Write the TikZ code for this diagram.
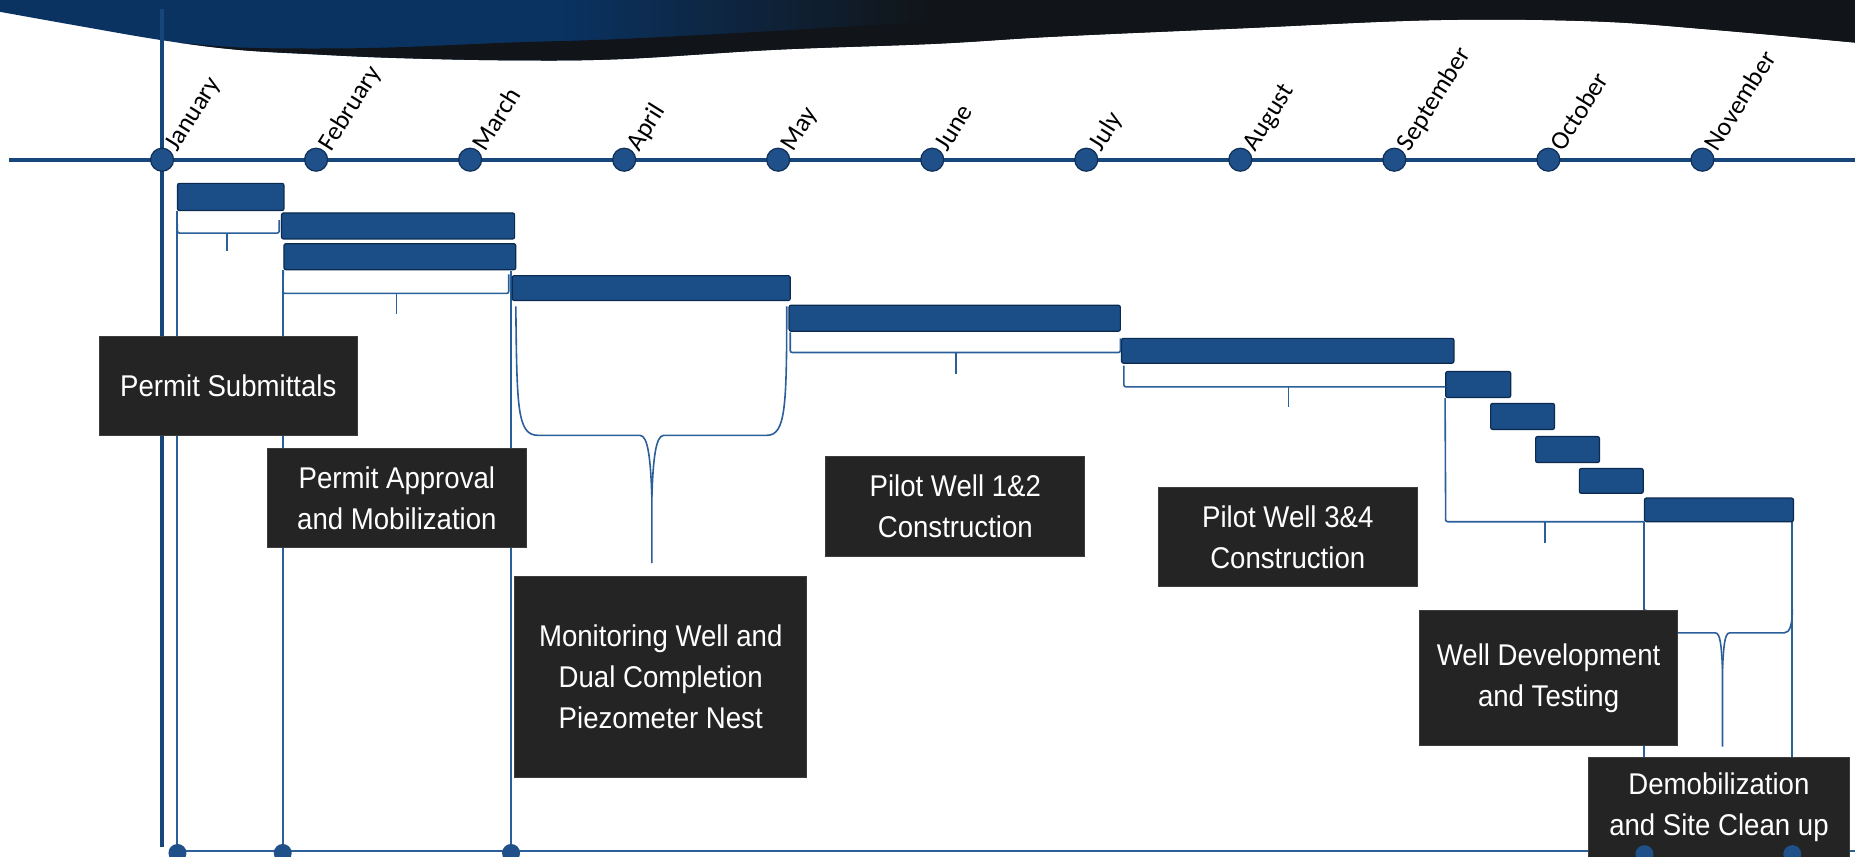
\documentclass[tikz,border=0pt]{standalone}
\usepackage{fontspec}
\usetikzlibrary{fit}
\newfontfamily\monthfam{Carlito}
\newfontfamily\boxfam[FakeStretch=0.92]{Liberation Sans}
\definecolor{navy}{HTML}{0A3362}
\definecolor{bandblack}{HTML}{111519}
\definecolor{barFill}{HTML}{1B4D86}
\definecolor{barEdge}{HTML}{0B2A50}
\definecolor{axisBlue}{HTML}{17467B}
\definecolor{connBlue}{HTML}{2B5F9A}
\definecolor{dotFill}{HTML}{1F5089}
\definecolor{dotEdge}{HTML}{0E2F58}
\definecolor{boxFill}{HTML}{242424}
\definecolor{boxEdge}{HTML}{3C3C3C}
\pgfdeclarehorizontalshading{bandshade}{100bp}{color(0bp)=(navy); color(25bp)=(navy); color(40bp)=(navy); color(50bp)=(bandblack); color(100bp)=(bandblack)}
\tikzset{
  bar/.style={draw=barEdge, fill=barFill, line width=1.2pt, rounded corners=2pt, inner sep=0pt},
  tbox/.style={fill=boxFill, draw=boxEdge, line width=0.8pt, inner sep=0pt},
  ttext/.style={text=white, font=\boxfam\fontsize{30}{41}\selectfont, align=center, inner sep=0pt},
  conn/.style={draw=connBlue, line width=1.6pt, rounded corners=2pt},
  vline/.style={draw=connBlue, line width=2pt},
  axisline/.style={draw=axisBlue, line width=4pt},
  mdot/.style={circle, fill=dotFill, draw=dotEdge, line width=1.2pt, minimum size=23pt, inner sep=0pt},
  bdot/.style={circle, fill=dotFill, minimum size=18pt, inner sep=0pt},
  mlabel/.style={font=\monthfam\fontsize{26}{30}\selectfont, rotate=58, anchor=base west, inner sep=0pt},
}
\begin{document}
\begin{tikzpicture}[x=1.18304pt, y=-1.18304pt]
\useasboundingbox (0,0) rectangle (1568,723.6);
% top band
\path[shading=bandshade] (0,0) -- plot[smooth, tension=0.6] coordinates {(0,10) (67,22) (137,34) (200,42) (267,46) (334,49) (430,51) (524,50) (657,42) (791,37) (891,31) (1048,24) (1213,17) (1346,18) (1446,25) (1568,36)} -- (1568,0) -- cycle;
\begin{scope}
\clip (0,0) -- plot[smooth, tension=0.6] coordinates {(0,10) (67,22) (137,34) (200,42) (267,46) (334,49) (430,51) (524,50) (657,42) (791,37) (891,31) (1048,24) (1213,17) (1346,18) (1446,25) (1568,36)} -- (1568,0) -- cycle;
\fill[bandblack] plot[smooth, tension=0.6] coordinates {(140,35) (200,40) (267,41) (334,40) (430,36) (524,33) (657,26) (791,18) (891,12) (1000,5) (1100,0)} -- (1568,0) -- (1568,60) -- (140,60) -- cycle;
\end{scope}
% axes
\draw[axisline] (8,135) -- (1568,135);
\draw[axisline] (137,8) -- (137,716);
% long verticals and bottom line
\draw[vline] (150,178) -- (150,720);
\draw[vline] (239,228) -- (239,720);
\draw[vline] (432,229) -- (432,720);
\draw[vline] (1390,441) -- (1390,720);
\draw[vline] (1515,441) -- (1515,720);
\draw[vline] (150,719) -- (1568,719);
% bars
\node[bar, fit={(150,155) (240,178)}] (b1) {};
\node[bar, fit={(238,180) (435,202)}] (b2) {};
\node[bar, fit={(240,206) (436,228)}] (b3) {};
\node[bar, fit={(433,233) (668,254)}] (b4) {};
\node[bar, fit={(667,258) (947,280)}] (b5) {};
\node[bar, fit={(948,286) (1229,307)}] (b6) {};
\node[bar, fit={(1222,314) (1277,336)}] (b7) {};
\node[bar, fit={(1260,341) (1314,363)}] (b8) {};
\node[bar, fit={(1298,369) (1352,391)}] (b9) {};
\node[bar, fit={(1335,396) (1389,417)}] (b10) {};
\node[bar, fit={(1390,421) (1516,441)}] (b11) {};
% brackets
\draw[conn] (b1.south west) -- (150,197) -- (236,197) -- (236,186);
\draw[conn] (192,197) -- (192,212);
\draw[conn] (b3.south west) -- (239,248) -- (430,248) -- (430,232);
\draw[conn] (335,248) -- (335,265);
\draw[conn] (668,281) -- (668,298) -- (947,298) -- (947,286);
\draw[conn] (808,298) -- (808,316);
\draw[conn] (950,309) -- (950,327) -- (1222,327);
\draw[conn] (1089,327) -- (1089,344);
\draw[conn] (b7.south west) -- (1222,441) -- (1390,441);
\draw[conn] (1306,441) -- (1306,459);
% curly braces
\draw[connBlue, line width=1.6pt] (436,259) .. controls (437,345) and (437,368) .. (455,368) -- (541,368) .. controls (548,368) and (550,390) .. (551,420) -- (551,476);
\draw[connBlue, line width=1.6pt] (551,420) .. controls (552,390) and (554,368) .. (561,368) -- (648,368) .. controls (664,368) and (665,345) .. (665,259);
\draw[connBlue, line width=1.6pt] (1391,515) .. controls (1391,530) and (1392,535) .. (1400,535) -- (1450,535) .. controls (1454,535) and (1455,545) .. (1456,565) -- (1456,631);
\draw[connBlue, line width=1.6pt] (1456,565) .. controls (1457,545) and (1458,535) .. (1462,535) -- (1508,535) .. controls (1513,535) and (1515,528) .. (1515,515);
% text boxes
\node[tbox, fit={(84,284) (302,368)}] (t1) {};
\node[ttext] (t1x) at (t1.center) {Permit Submittals};
\node[tbox, fit={(226,379) (445,463)}] (t2) {};
\node[ttext] (t2x) at (t2.center) {Permit Approval\\and Mobilization};
\node[tbox, fit={(435,487) (682,657)}] (t3) {};
\node[ttext] (t3x) at (t3.center) {Monitoring Well and\\Dual Completion\\Piezometer Nest};
\node[tbox, fit={(698,386) (917,470)}] (t4) {};
\node[ttext] (t4x) at (t4.center) {Pilot Well 1\&2\\Construction};
\node[tbox, fit={(979,412) (1198,496)}] (t5) {};
\node[ttext] (t5x) at (t5.center) {Pilot Well 3\&4\\Construction};
\node[tbox, fit={(1200,516) (1418,630)}] (t6) {};
\node[ttext] (t6x) at (t6.center) {Well Development\\and Testing};
\node[tbox, fit={(1343,640) (1563,725)}] (t7) {};
\node[ttext] (t7x) at (t7.center) {Demobilization\\and Site Clean up};
% bottom dots
\node[bdot] (d1) at (150,721) {};
\node[bdot] (d2) at (239,721) {};
\node[bdot] (d3) at (432,721) {};
\node[bdot] (d4) at (1390,722) {};
\node[bdot] (d5) at (1515,722) {};
% month dots and labels
\foreach \n/\name [count=\i from 0] in {jan/January, feb/February, mar/March, apr/April, may/May, jun/June, jul/July, aug/August, sep/September, oct/October, nov/November} {
  \node[mdot] (\n) at ({137+130.2*\i},135) {};
  \node[mlabel] (\n-l) at ({150+130.2*\i},129) {\name};
}
\end{tikzpicture}
\end{document}
